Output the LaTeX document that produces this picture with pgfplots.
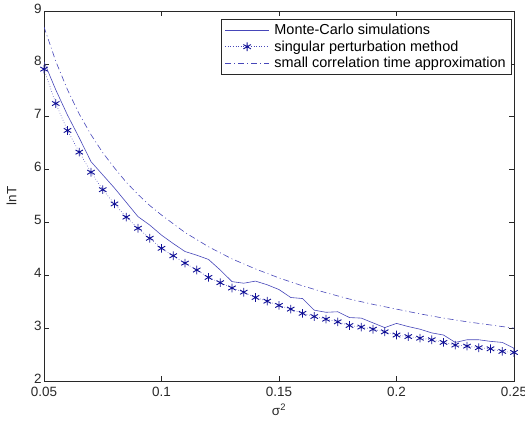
\documentclass[border=0pt]{standalone}
\usepackage{pgfplots}
\pgfplotsset{compat=1.18}
\usepackage{fontspec}
\setmainfont{Liberation Sans}
\definecolor{lc}{RGB}{70,70,185}
\definecolor{ax}{RGB}{40,40,40}
\begin{document}
\begin{tikzpicture}[x=1bp,y=1bp]
\useasboundingbox (-44bp,-45bp) rectangle (481bp,381bp);
\begin{axis}[
  scale only axis, width=470bp, height=370bp,
  at={(0,0)}, anchor=south west,
  xmin=0.05, xmax=0.25, ymin=2, ymax=9,
  xtick={0.05,0.1,0.15,0.2,0.25},
  xticklabels={0.05,0.1,0.15,0.2,0.25},
  ytick={2,3,4,5,6,7,8,9},
  tick align=inside, tick pos=both,
  major tick length=5bp,
  axis line style={ax, line width=0.7pt},
  every tick/.style={ax, line width=0.6pt},
  tick label style={font=\fontsize{13.5}{15}\selectfont, text=ax},
  xticklabel style={yshift=-2.5bp},
  yticklabel style={xshift=1bp, yshift=2.5bp},
  /pgf/number format/assume math mode=true,
  xlabel={σ\textsuperscript{2}},
  ylabel={lnT},
  label style={font=\fontsize{13.5}{15}\selectfont, text=ax},
  xlabel style={at={(axis description cs:0.5,0)}, anchor=north, yshift=-19bp},
  ylabel style={at={(axis description cs:0,0.5)}, anchor=south, yshift=24bp},
  legend style={anchor=north east, at={(rel axis cs:0.9957,0.9784)},
    draw=ax, line width=0.6pt, font=\fontsize{14.5}{16}\selectfont,
    inner xsep=4bp, inner ysep=3bp, row sep=0.5bp, cells={anchor=west}},
  legend image code/.code={\draw[#1] (0bp,0bp) -- (44bp,0bp); \path[#1,only marks] plot coordinates {(22bp,0bp)}; \path (47bp,0bp);},
]
\addplot[lc, line width=0.6pt, mark=none] coordinates {
(0.05,8.04)(0.055,7.51)(0.06,7.03)(0.065,6.60)(0.07,6.15)(0.075,5.90)(0.08,5.65)(0.085,5.38)
(0.09,5.11)(0.095,4.95)(0.1,4.76)(0.105,4.60)(0.11,4.45)(0.115,4.38)(0.12,4.30)(0.125,4.10)
(0.13,3.88)(0.135,3.85)(0.14,3.89)(0.145,3.82)(0.15,3.73)(0.155,3.58)(0.16,3.56)(0.165,3.34)
(0.17,3.30)(0.175,3.31)(0.18,3.20)(0.185,3.19)(0.19,3.10)(0.195,3.01)(0.2,3.09)(0.205,3.03)
(0.21,2.98)(0.215,2.91)(0.22,2.87)(0.225,2.73)(0.23,2.78)(0.235,2.78)(0.24,2.75)(0.245,2.73)(0.25,2.62)};
\addlegendentry{Monte-Carlo simulations}
\addplot[lc, line width=0.6pt, dotted, mark=asterisk, mark size=4.3bp,
  mark options={solid, draw={rgb,255:red,15;green,15;blue,150}, fill=blue, line width=0.9pt}] coordinates {
(0.05,7.90)(0.055,7.25)(0.06,6.74)(0.065,6.33)(0.07,5.95)(0.075,5.62)(0.08,5.35)(0.085,5.10)
(0.09,4.89)(0.095,4.70)(0.1,4.51)(0.105,4.37)(0.11,4.23)(0.115,4.10)(0.12,3.96)(0.125,3.86)
(0.13,3.76)(0.135,3.68)(0.14,3.58)(0.145,3.51)(0.15,3.43)(0.155,3.36)(0.16,3.28)(0.165,3.22)
(0.17,3.17)(0.175,3.12)(0.18,3.05)(0.185,3.02)(0.19,2.98)(0.195,2.93)(0.2,2.87)(0.205,2.84)
(0.21,2.81)(0.215,2.78)(0.22,2.73)(0.225,2.68)(0.23,2.66)(0.235,2.63)(0.24,2.61)(0.245,2.56)(0.25,2.54)};
\addlegendentry{singular perturbation method}
\addplot[lc, line width=0.6pt, dash pattern=on 6bp off 3bp on 1bp off 3bp, mark=none] coordinates {
(0.05,8.70)(0.055,8.05)(0.06,7.51)(0.065,7.05)(0.07,6.66)(0.075,6.32)(0.08,6.03)(0.085,5.76)
(0.09,5.53)(0.095,5.32)(0.1,5.14)(0.11,4.81)(0.12,4.54)(0.13,4.31)(0.14,4.12)(0.15,3.95)
(0.16,3.80)(0.17,3.67)(0.18,3.55)(0.19,3.45)(0.2,3.36)(0.21,3.27)(0.22,3.19)(0.23,3.12)
(0.24,3.06)(0.25,3.00)};
\addlegendentry{small correlation time approximation}
\end{axis}
\end{tikzpicture}
\end{document}
